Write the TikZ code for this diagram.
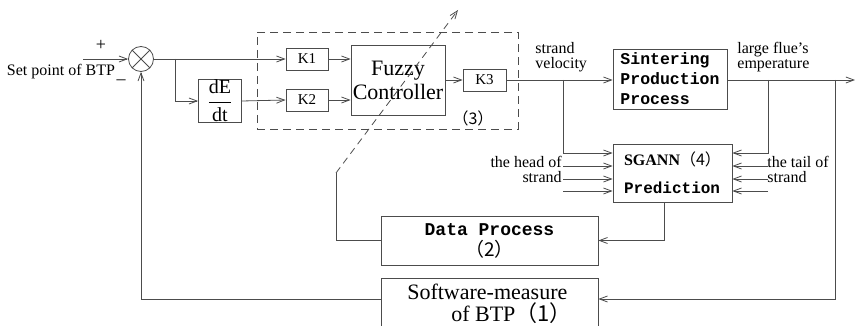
\documentclass[tikz,border=0pt]{standalone}
\usepackage{fontspec}
\setmainfont{Liberation Serif}
\setmonofont{Liberation Mono}
\newfontfamily\cjk{Noto Sans CJK SC}
\usetikzlibrary{arrows.meta}
\begin{document}
\begin{tikzpicture}[x=1pt, y=-1pt, >={Straight Barb[length=8pt,width=6pt]},
    color=black!70, line width=0.8pt,
    every node/.style={text=black},
    blk/.style={draw, rectangle, inner sep=0pt},
    gain/.style={blk, minimum width=42pt, minimum height=22pt, font=\fontsize{15}{16}\selectfont},
    lbl/.style={inner sep=0pt, font=\fontsize{16}{15}\selectfont}]
    \useasboundingbox (0,0) rectangle (855,326);

    % summing point
    \node[draw, circle, minimum size=25pt, inner sep=0pt] (sum) at (141,59) {};
    \draw (sum.north west) -- (sum.south east) (sum.north east) -- (sum.south west);
    \coordinate (sp) at (83,59);
    \draw[->] (sp) -- (sum.west);
    \node[lbl, font=\fontsize{16}{16}\selectfont] (spl) at (61,72) {Set point of BTP};
    \node[lbl, font=\fontsize{18}{18}\selectfont] (plus) at (101,45) {+};
    \node[lbl, font=\fontsize{18}{18}\selectfont] (minus) at (121,82) {--};

    % fuzzy controller (3)
    \node[draw, dash pattern=on 8pt off 5pt, minimum width=261pt, minimum height=97pt] (fzbox) at (387.5,80.5) {};
    \node[gain] (k1) at (307,59) {K1};
    \node[gain] (k2) at (307,100) {K2};
    \node[blk, minimum width=94pt, minimum height=70pt, align=center, font=\fontsize{22}{24}\selectfont] (fuzzy) at (398,80) {Fuzzy\\Controller};
    \node[gain, minimum width=43pt] (k3) at (484.5,80) {K3};
    \node[lbl, font=\fontsize{16}{16}\selectfont] (n3) at (473,118) {\cjk （3）};
    \node[blk, minimum width=43pt, minimum height=41pt, font=\fontsize{20}{22}\selectfont] (dedt) at (220,101) {$\displaystyle\frac{\mbox{dE}}{\mbox{dt}}$};

    % process and prediction
    \node[blk, minimum width=114pt, minimum height=60pt, align=left, font=\fontsize{16.5}{20}\ttfamily\bfseries] (sint) at (670,79) {Sintering\\Production\\Process};
    \node[blk, minimum width=119pt, minimum height=58pt, align=left, font=\fontsize{16}{28}\selectfont] (sgann) at (672.5,173) {{\bfseries SGANN}{\cjk （4）}\\{\ttfamily\bfseries Prediction}};
    \node[blk, minimum width=217pt, minimum height=49pt, align=center, font=\fontsize{18}{21}\selectfont] (data) at (489.5,240.5) {{\ttfamily\bfseries Data Process}\\{\cjk\fontsize{19}{21}\selectfont （2）}};
    \node[blk, minimum width=217pt, minimum height=52pt, align=left, font=\fontsize{22}{22}\selectfont] (soft) at (489.5,304) {Software-measure\\\hspace*{2em}of BTP{\cjk （1）}};

    % labels
    \node[lbl, anchor=west, align=left] (vel) at (535,57) {strand\\velocity};
    \node[lbl, anchor=west, align=left] (temp) at (737,57) {large flue's\\emperature};
    \node[lbl, anchor=east, align=right] (head) at (562,169) {the head of\\strand};
    \node[lbl, anchor=west, align=left] (tail) at (767,169) {the tail of\\strand};

    % forward path
    \draw[->] (sum.east) -- (k1.west);
    \coordinate (br1) at (175,59);
    \draw[->] (br1) |- (dedt.west);
    \draw[->] (dedt.east) -- (k2.west);
    \draw[->] (k1.east) -- (k1.east -| fuzzy.west);
    \draw[->] (k2.east) -- (k2.east -| fuzzy.west);
    \draw[->] (fuzzy.east) -- (k3.west);
    \draw[->] (k3.east) -- (k3.east -| sint.west);
    \coordinate (out) at (855,80);
    \draw[->] (k3.east -| sint.east) -- (out);

    % branches to SGANN
    \coordinate (br2) at (563,80);
    \coordinate (br3) at (768,80);
    \coordinate (br4) at (835,80);
    \draw[->] (br2) |- ([yshift=20pt]sgann.west);
    \draw[->] (br3) |- ([yshift=20pt]sgann.east);
    \foreach \y [count=\i] in {166,179,191} {
        \coordinate (hin\i) at (563,\y);
        \coordinate (tin\i) at (768,\y);
        \draw[->] (hin\i) -- (hin\i -| sgann.west);
        \draw[->] (tin\i) -- (tin\i -| sgann.east);
    }

    % feedback
    \draw[->] ([xshift=-8pt]sgann.south) |- (data.east);
    \coordinate (bend) at (336,173);
    \coordinate (tip) at (458,10);
    \draw (data.west) -| (bend);
    \draw[->, dash pattern=on 7pt off 5pt] (bend) -- (tip);
    \draw[->] (br4) |- ([yshift=5pt]soft.east);
    \draw[->] ([yshift=5pt]soft.west) -| (sum.south);
\end{tikzpicture}
\end{document}
